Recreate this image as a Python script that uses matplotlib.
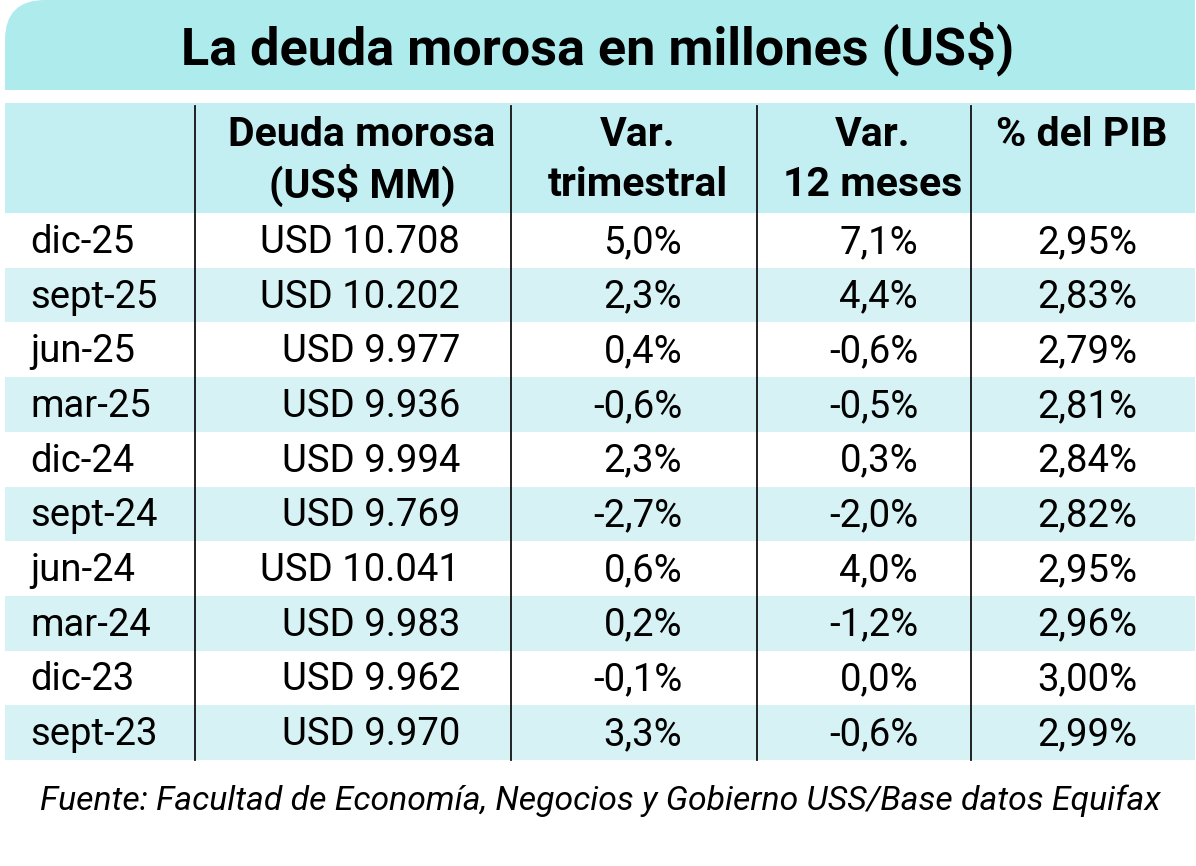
import matplotlib
matplotlib.use("Agg")
import matplotlib.pyplot as plt
from matplotlib.patches import Rectangle, PathPatch
from matplotlib.path import Path

title = "La deuda morosa en millones (US$)"
headers = [["", ""], ["Deuda morosa", "(US$ MM)"], ["Var.", "trimestral"], ["Var.", "12 meses"], ["% del PIB", ""]]
periods = ["dic-25", "sept-25", "jun-25", "mar-25", "dic-24", "sept-24", "jun-24", "mar-24", "dic-23", "sept-23"]
deuda = ["USD 10.708", "USD 10.202", "USD 9.977", "USD 9.936", "USD 9.994", "USD 9.769", "USD 10.041", "USD 9.983", "USD 9.962", "USD 9.970"]
var_trim = ["5,0%", "2,3%", "0,4%", "-0,6%", "2,3%", "-2,7%", "0,6%", "0,2%", "-0,1%", "3,3%"]
var_12m = ["7,1%", "4,4%", "-0,6%", "-0,5%", "0,3%", "-2,0%", "4,0%", "-1,2%", "0,0%", "-0,6%"]
pib = ["2,95%", "2,83%", "2,79%", "2,81%", "2,84%", "2,82%", "2,95%", "2,96%", "3,00%", "2,99%"]
source = "Fuente: Facultad de Economía, Negocios y Gobierno USS/Base datos Equifax"

W, H = 1196, 866
fig = plt.figure(figsize=(W / 100, H / 100), dpi=100)
ax = fig.add_axes([0, 0, 1, 1])
ax.set_xlim(0, W)
ax.set_ylim(H, 0)
ax.axis("off")

FONT = "Roboto"
title_c = "#aeebed"
head_c = "#c3eef2"
stripe_c = "#d6f2f4"

# title box with rounded top-left corner
x0, x1, y0, y1, r = 5, 1195, 0, 90, 40
verts = [(x0, y1), (x0, y0 + r), (x0, y0), (x0 + r, y0), (x1, y0), (x1, y1), (x0, y1)]
codes = [Path.MOVETO, Path.LINETO, Path.CURVE3, Path.CURVE3, Path.LINETO, Path.LINETO, Path.CLOSEPOLY]
ax.add_patch(PathPatch(Path(verts, codes), facecolor=title_c, edgecolor="none"))
ax.text(598, 49, title, ha="center", va="center", fontsize=37.5, fontweight="bold", family=FONT, color="black")

# header
hy0, hy1 = 103, 213
ax.add_patch(Rectangle((5, hy0), 1190, hy1 - hy0, facecolor=head_c, edgecolor="none"))

row_h = 54.7
for i in range(len(periods)):
    if i % 2 == 1:
        ax.add_patch(Rectangle((5, hy1 + i * row_h), 1190, row_h, facecolor=stripe_c, edgecolor="none"))

bottom = hy1 + len(periods) * row_h
for xv in [195, 511, 757, 971]:
    ax.plot([xv, xv], [106, bottom], color="#111111", lw=1.3)

head_cx = [0, 362, 638, 873, 1082]
for j in range(1, 5):
    for k, line in enumerate(headers[j]):
        if line:
            ax.text(head_cx[j], 135 + k * 50, line, ha="center", va="center", fontsize=29.5,
                    fontweight="bold", family=FONT, color="black")

right_x = [0, 460, 682, 918, 1137]
cols = [deuda, var_trim, var_12m, pib]
for i, p in enumerate(periods):
    yc = hy1 + (i + 0.5) * row_h + 2
    ax.text(30, yc, p, ha="left", va="center", fontsize=27.5, family=FONT, color="black")
    for j, col in enumerate(cols, start=1):
        ax.text(right_x[j], yc, col[i], ha="right", va="center", fontsize=27.5, family=FONT, color="black")

ax.text(600, 801, source, ha="center", va="center", fontsize=24.3, style="italic", family=FONT, color="black")

fig.savefig("out.png", dpi=100, facecolor="white")
